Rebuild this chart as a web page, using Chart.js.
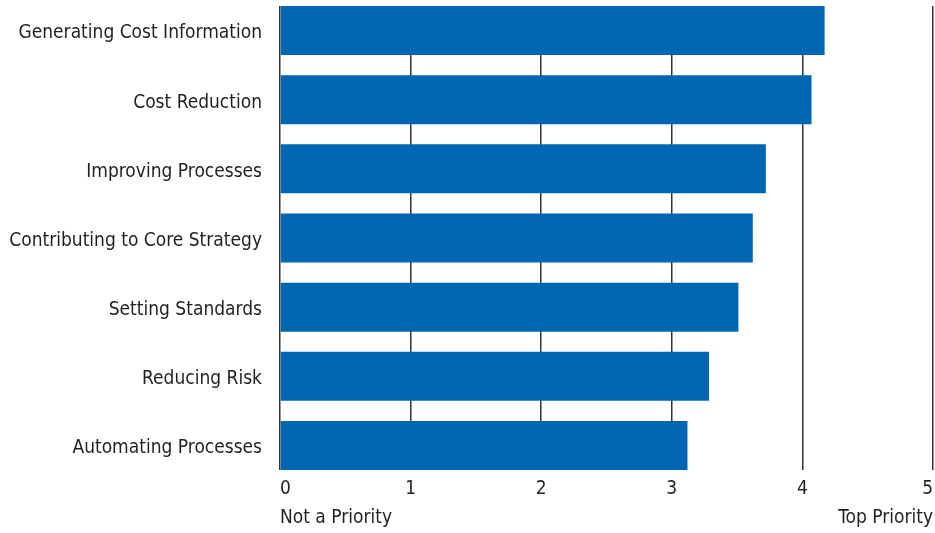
<!DOCTYPE html>
<html>
<head>
<meta charset="utf-8">
<title>Priorities</title>
<script src="https://cdn.jsdelivr.net/npm/chart.js@4/dist/chart.umd.min.js"></script>
<style>
  html, body { margin: 0; padding: 0; background: #fff; }
  #wrap { width: 935px; height: 533px; position: relative; }
</style>
</head>
<body>
<div id="wrap"><canvas id="chartPriorities"></canvas></div>
<script>
/* categories, top to bottom */
const categories = [
  'Generating Cost Information',
  'Cost Reduction',
  'Improving Processes',
  'Contributing to Core Strategy',
  'Setting Standards',
  'Reducing Risk',
  'Automating Processes'
];

/* average priority score (0 = not a priority, 5 = top priority) */
const scores = [4.17, 4.07, 3.72, 3.62, 3.51, 3.285, 3.12];

/* scale ticks and the captions under both ends */
const scaleTicks = [0, 1, 2, 3, 4, 5];
const lowCaption  = 'Not a Priority';
const highCaption = 'Top Priority';

const BAR_BLUE  = '#0066b1';
const INK       = '#231f20';
const FONT      = "'DejaVu Sans Condensed', 'DejaVu Sans', sans-serif";

/* bars fill the plot from top edge to bottom edge */
const barShare = 0.708;
const half = barShare / 2;

const ctx = document.getElementById('chartPriorities');

new Chart(ctx, {
  type: 'bar',
  data: {
    datasets: [{
      data: scores.map((v, i) => ({ x: v, y: i })),
      backgroundColor: BAR_BLUE,
      borderWidth: 0,
      barPercentage: barShare,
      categoryPercentage: 1
    }]
  },
  options: {
    indexAxis: 'y',
    responsive: true,
    maintainAspectRatio: false,
    animation: false,
    layout: { padding: { top: 6, right: 2, left: 0, bottom: 0 } },
    plugins: {
      legend: { display: false },
      tooltip: { enabled: false }
    },
    scales: {
      x: {
        type: 'linear',
        position: 'bottom',
        min: scaleTicks[0],
        max: scaleTicks[scaleTicks.length - 1],
        afterBuildTicks: function (scale) {
          scale.ticks = scaleTicks.map(v => ({ value: v }));
        },
        afterFit: function (scale) {
          scale.height = 63;
          scale.paddingLeft = 0;
          scale.paddingRight = 0;
        },
        border: { display: false },
        grid: {
          color: '#333',
          lineWidth: 1.5,
          drawTicks: false
        },
        ticks: {
          align: 'inner',
          padding: 5,
          color: INK,
          font: { family: FONT, size: 19, lineHeight: '29px' },
          callback: function (v) {
            if (v === scaleTicks[0]) return [String(v), lowCaption];
            if (v === scaleTicks[scaleTicks.length - 1]) return [String(v), highCaption];
            return String(v);
          }
        }
      },
      y: {
        type: 'linear',
        reverse: true,
        offset: false,
        min: -half,
        max: categories.length - 1 + half,
        afterBuildTicks: function (scale) {
          scale.ticks = categories.map((c, i) => ({ value: i }));
        },
        afterFit: function (scale) {
          scale.width = 280;
          scale.paddingTop = 0;
          scale.paddingBottom = 0;
        },
        border: { display: false },
        grid: { display: false, drawTicks: false },
        ticks: {
          padding: 18,
          labelOffset: 3,
          color: INK,
          font: { family: FONT, size: 19 },
          callback: function (v) { return categories[v]; }
        }
      }
    }
  }
});
</script>
</body>
</html>
